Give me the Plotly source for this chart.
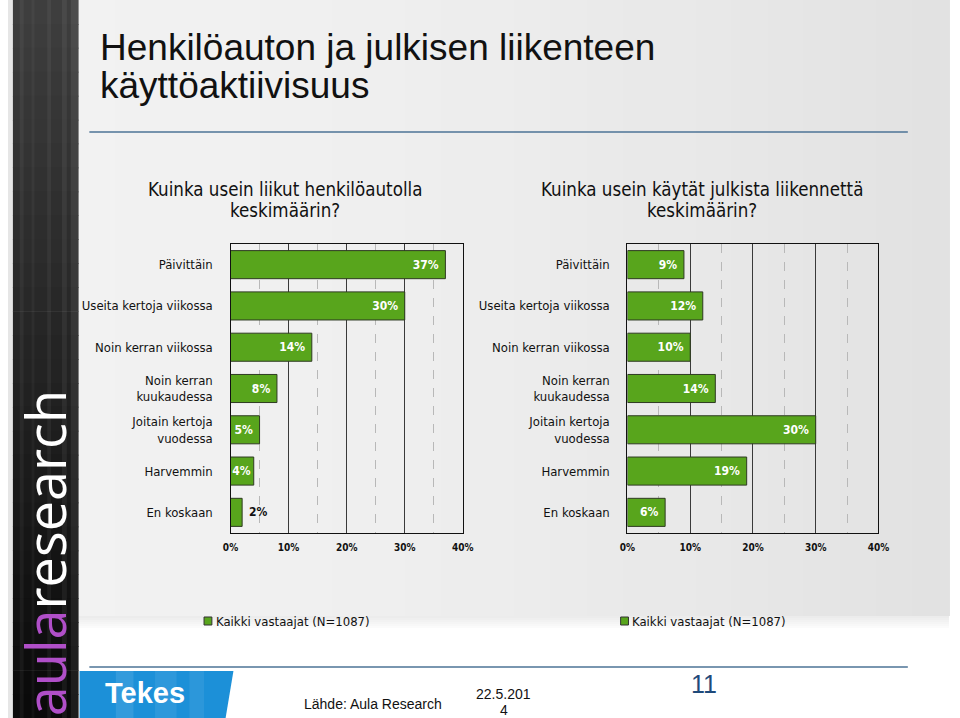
import plotly.graph_objects as go

# ---------------- data ----------------
categories = [
    "Päivittäin",
    "Useita kertoja viikossa",
    "Noin kerran viikossa",
    "Noin kerran<br>kuukaudessa",
    "Joitain kertoja<br>vuodessa",
    "Harvemmin",
    "En koskaan",
]
car_values = [37, 30, 14, 8, 5, 4, 2]          # Kuinka usein liikut henkilöautolla
transit_values = [9, 12, 10, 14, 30, 19, 6]    # Kuinka usein käytät julkista liikennettä
tick_values = [0, 10, 20, 30, 40]
tick_labels = ["0%", "10%", "20%", "30%", "40%"]
series_name = "Kaikki vastaajat (N=1087)"

title_line1 = "Henkilöauton ja julkisen liikenteen"
title_line2 = "käyttöaktiivisuus"
q_car = ["Kuinka usein liikut henkilöautolla", "keskimäärin?"]
q_transit = ["Kuinka usein käytät julkista liikennettä", "keskimäärin?"]

# ---------------- styling ----------------
W, H = 960, 718
FONT = "DejaVu Sans Condensed, DejaVu Sans, sans-serif"
ARIAL = "Liberation Sans, Arial, sans-serif"
GREEN = "#58a51c"
BAR_LINE = "#2e3a22"
NB = "\u00a0"


def px(x):
    return x / W


def py(y):
    return 1 - y / H


fig = go.Figure()


def bar_trace(values, xa, ya):
    inside = [v >= 3 for v in values]
    positions = ["inside" if ins else "outside" for ins in inside]
    labels = []
    for v, ins in zip(values, inside):
        if not ins:
            labels.append(f"{NB}{v}%")
        elif v >= 5:
            labels.append(f"{v}%{NB}")
        else:
            labels.append(f"{v}%")
    return go.Bar(
        y=categories,
        x=values,
        orientation="h",
        xaxis=xa,
        yaxis=ya,
        marker=dict(color=GREEN, line=dict(color=BAR_LINE, width=1)),
        text=labels,
        textposition=positions,
        textangle=0,
        insidetextanchor="end",
        constraintext="none",
        insidetextfont=dict(color="white", size=12, family=FONT, weight="bold"),
        outsidetextfont=dict(color="#111111", size=12, family=FONT, weight="bold"),
        cliponaxis=False,
        name=series_name,
        showlegend=False,
        hoverinfo="skip",
    )


fig.add_trace(bar_trace(car_values, "x", "y"))
fig.add_trace(bar_trace(transit_values, "x2", "y2"))

y_dom = [py(533), py(244)]

xaxis_common = dict(
    range=[0, 40],
    tickvals=tick_values,
    ticktext=tick_labels,
    showgrid=True,
    gridcolor="#3a3a3a",
    gridwidth=1.3,
    minor=dict(dtick=5, tick0=0, showgrid=True, gridcolor="#b8b8b8",
               griddash="dash", gridwidth=1),
    showline=True,
    linecolor="#111111",
    linewidth=1.3,
    mirror=True,
    zeroline=False,
    ticks="",
    tickfont=dict(family=FONT, size=10, color="#111111", weight="bold"),
    ticklabelstandoff=5,
    fixedrange=True,
)
yaxis_common = dict(
    autorange="reversed",
    domain=y_dom,
    showgrid=False,
    showline=True,
    linecolor="#111111",
    linewidth=1.3,
    mirror=True,
    ticks="",
    tickfont=dict(family=FONT, size=13, color="#111111"),
    ticklabelstandoff=14,
    fixedrange=True,
)

layout_shapes = []

# slide background (light grey gradient, white footer)
n = 24
x0, x1 = 72, 960
for i in range(n):
    t = i / (n - 1)
    c = int(242 - 16 * t ** 1.6)
    layout_shapes.append(dict(
        type="rect", xref="paper", yref="paper", layer="below",
        x0=px(x0 + (x1 - x0) * i / n), x1=px(x0 + (x1 - x0) * (i + 1) / n) + 0.001,
        y0=py(616), y1=py(0),
        fillcolor=f"rgb({c},{c},{c})", line=dict(width=0)))
# soft transition into white footer
for i in range(6):
    c = int(236 + i * 3)
    layout_shapes.append(dict(
        type="rect", xref="paper", yref="paper", layer="below",
        x0=px(72), x1=1, y0=py(616 + (i + 1) * 2), y1=py(616 + i * 2),
        fillcolor=f"rgb({c},{c},{c})", line=dict(width=0)))

# dark side bar with vertical gradient
layout_shapes.append(dict(type="rect", xref="paper", yref="paper", layer="below",
                          x0=0, x1=px(5), y0=0, y1=1,
                          fillcolor="#e6e6e6", line=dict(width=0)))
m = 30
for i in range(m):
    t = i / (m - 1)
    c = int(62 - 52 * t)
    layout_shapes.append(dict(
        type="rect", xref="paper", yref="paper", layer="below",
        x0=px(5), x1=px(72),
        y0=py(H * (i + 1) / m) - 0.001, y1=py(H * i / m),
        fillcolor=f"rgb({c},{c},{c})", line=dict(width=0)))
# faint vertical streaks in the side bar
for (a, b, op) in [(12, 16, 0.05), (24, 27, 0.04), (40, 44, 0.05), (55, 60, 0.06), (64, 72, 0.08)]:
    layout_shapes.append(dict(type="rect", xref="paper", yref="paper", layer="below",
                              x0=px(a), x1=px(b), y0=0, y1=1,
                              fillcolor=f"rgba(255,255,255,{op})", line=dict(width=0)))

# title rule and footer rule
for yy in (132, 667):
    layout_shapes.append(dict(type="line", xref="paper", yref="paper",
                              x0=px(83), x1=px(918), y0=py(yy), y1=py(yy),
                              line=dict(color="#4d7396", width=1.6)))

# Tekes logo block
layout_shapes.append(dict(
    type="path", xref="paper", yref="paper", layer="below",
    path=f"M {px(73)},{py(671)} L {px(230)},{py(671)} L {px(222)},{py(718)} L {px(73)},{py(718)} Z",
    fillcolor="#1c90d8", line=dict(width=0)))
for (a, b, op) in [(110, 128, 0.10), (150, 172, 0.08), (185, 200, 0.07)]:
    layout_shapes.append(dict(type="rect", xref="paper", yref="paper", layer="below",
                              x0=px(a), x1=px(b), y0=0, y1=py(671),
                              fillcolor=f"rgba(255,255,255,{op})", line=dict(width=0)))

# legend squares
for lx in (200, 625):
    layout_shapes.append(dict(type="rect", xref="paper", yref="paper",
                              x0=px(lx), x1=px(lx + 8), y0=py(625), y1=py(617),
                              fillcolor=GREEN, line=dict(color="#333333", width=1)))

annotations = []


def ann(text, x, y, size, family=FONT, color="#111111", xanchor="left",
        yanchor="middle", **kw):
    annotations.append(dict(text=text, x=px(x), y=py(y), xref="paper", yref="paper",
                            xanchor=xanchor, yanchor=yanchor, showarrow=False,
                            font=dict(size=size, family=family, color=color), **kw))


ann(title_line1, 92, 48, 37, family=ARIAL)
ann(title_line2, 92, 86, 37, family=ARIAL)
ann(q_car[0], 283, 189, 18.6, xanchor="center")
ann(q_car[1], 283, 210, 18.6, xanchor="center")
ann(q_transit[0], 708, 189, 18.6, xanchor="center")
ann(q_transit[1], 708, 210, 18.6, xanchor="center")
ann(series_name, 210, 621, 13)
ann(series_name, 635, 621, 13)
ann("<b>Tekes</b>", 140, 693, 29, family=ARIAL, color="white", xanchor="center")
ann("Lähde: Aula Research", 372, 704, 14, family=ARIAL, xanchor="center")
ann("22.5.201", 506, 694, 14, family=ARIAL, xanchor="center")
ann("4", 506, 710, 14, family=ARIAL, xanchor="center")
ann("11", 710, 684, 25, family=ARIAL, color="#1f4a7a", xanchor="center")
ann("<span style='color:#b04fc8'>aula</span>research", 38, 553, 54,
    family="Open Sans, Noto Sans, sans-serif", color="#ffffff", xanchor="center",
    textangle=-90)

fig.update_layout(
    width=W, height=H,
    margin=dict(l=0, r=0, t=0, b=0),
    paper_bgcolor="white",
    plot_bgcolor="rgba(0,0,0,0)",
    bargap=0.32,
    showlegend=False,
    xaxis=dict(domain=[px(227), px(464)], anchor="y", **xaxis_common),
    yaxis=dict(anchor="x", **yaxis_common),
    xaxis2=dict(domain=[px(632), px(888)], anchor="y2", **xaxis_common),
    yaxis2=dict(anchor="x2", **yaxis_common),
    shapes=layout_shapes,
    annotations=annotations,
)

fig.write_html(
    "out.html",
    config={"displayModeBar": False},
    post_script="document.body.style.margin='0';document.body.style.overflow='hidden';",
)
